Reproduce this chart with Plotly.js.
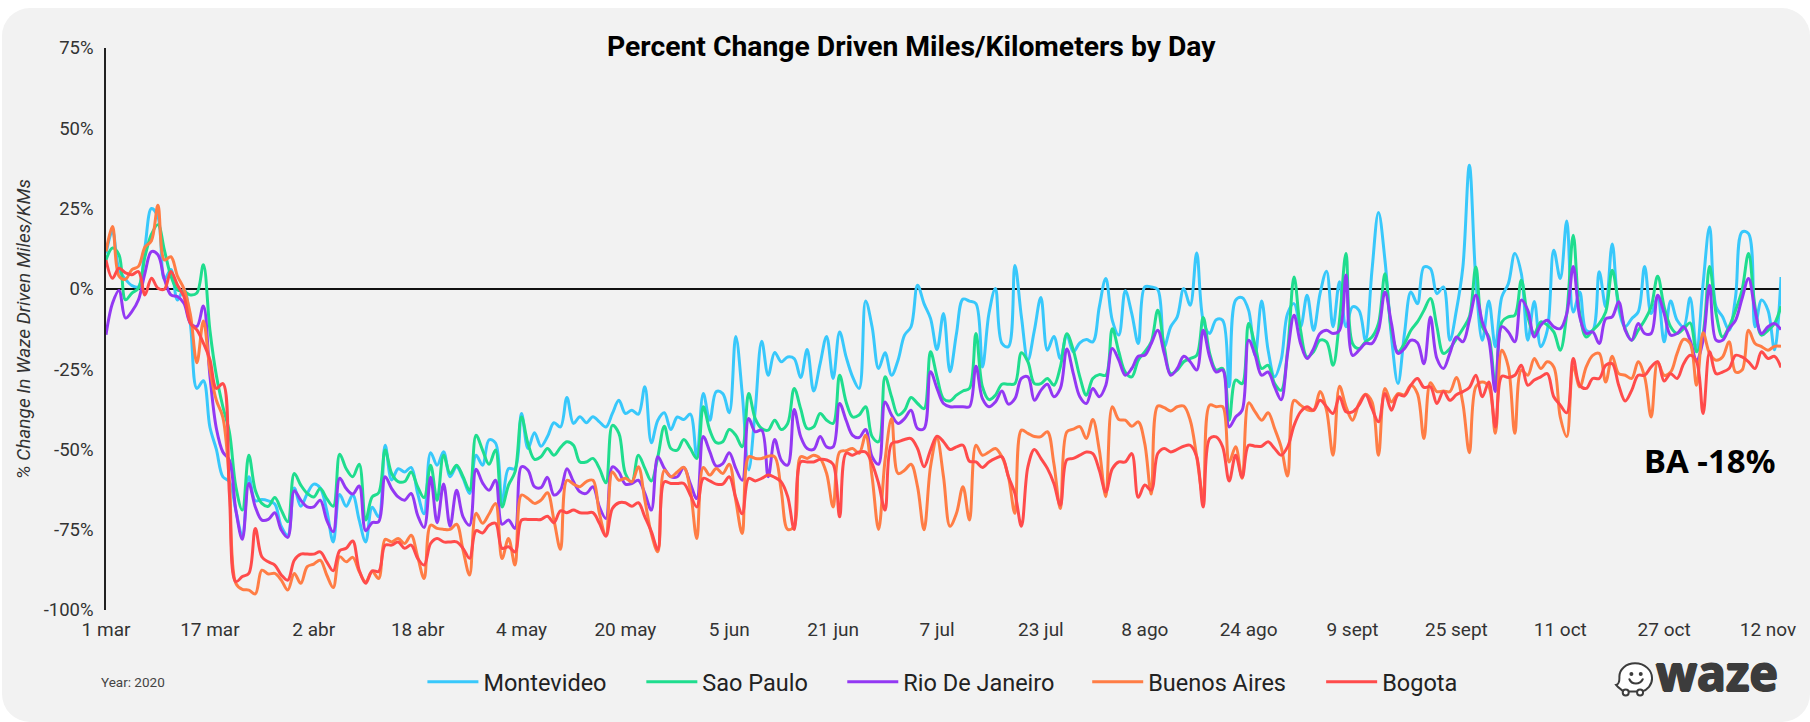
<!DOCTYPE html>
<html><head><meta charset="utf-8">
<script src="https://cdn.plot.ly/plotly-3.0.1.min.js"></script>
<style>
html,body{margin:0;padding:0;background:#fff;width:1810px;height:722px;overflow:hidden}
#panel{position:absolute;left:2px;top:8px;width:1808px;height:714px;background:#f2f2f2;border-radius:28px}
#chart{position:absolute;left:0;top:0;width:1810px;height:722px}
</style></head><body>
<div id="panel"></div><div id="chart"></div>
<script>
const startDate = '2020-03-01';
const tickDates = ['2020-03-01','2020-03-17','2020-04-02','2020-04-18','2020-05-04','2020-05-20','2020-06-05','2020-06-21','2020-07-07','2020-07-23','2020-08-08','2020-08-24','2020-09-09','2020-09-25','2020-10-11','2020-10-27','2020-11-12'];
const tickLabels = ['1 mar','17 mar','2 abr','18 abr','4 may','20 may','5 jun','21 jun','7 jul','23 jul','8 ago','24 ago','9 sept','25 sept','11 oct','27 oct','12 nov'];
const yTickValues = [-100,-75,-50,-25,0,25,50,75];
const yTickLabels = ['-100%','-75%','-50%','-25%','0%','25%','50%','75%'];
const montevideo = [11,18,6,3,1,0.7,13,25,22.5,3,
6,-3.5,0,-11,-31,-28.6,-43,-50,-58.5,-60,
-69,-77,-58.5,-66,-65.6,-66,-67,-74,-76.7,-62,
-67.7,-63.7,-60.8,-62,-69,-78.8,-64,-67.7,-64.2,-72,
-78.8,-68,-71,-48.7,-59.5,-56,-57,-55.6,-63.7,-70,
-51,-54.9,-50.7,-58.5,-55.4,-59,-63.7,-51.8,-54.9,-47,
-48,-66.8,-56,-56,-38.8,-49.7,-44.8,-49,-46,-41.7,
-43,-33.8,-41.9,-39.8,-41.7,-39.8,-41.4,-43,-38.8,-34.7,
-38.8,-37.8,-39,-30.5,-47.9,-40.9,-38.6,-43.8,-39.9,-40.7,
-39,-52.3,-32.6,-40.9,-32,-32.6,-38.6,-14.8,-32.6,-56.4,
-37.8,-16.3,-26.9,-19.8,-22.7,-21.2,-21.7,-27.6,-18.9,-31.8,
-23.3,-14.8,-27.9,-13.4,-21.2,-27.4,-31,-3.8,-11.8,-24.8,
-19.9,-26.9,-22.2,-14.4,-11.8,1.1,-4.6,-9.2,-18.9,-7.7,
-25.8,-13.9,-3.2,-3.8,-4.6,-24.3,-7.7,0.1,-17,-18,
7.3,-8.7,-22.2,-12.9,-2.7,-19.1,-14.8,-21.7,-14.4,-19.6,
-16.8,-15.8,-16.5,-5.6,3.2,-9.8,-14.4,-0.6,-7.7,-17,
0.6,0.6,-0.2,-18,-11.8,-8.7,0.1,-5.1,11.2,-9.8,
-13.9,-9.6,-9.8,-30.5,-3.5,-2.7,-6.7,-20.7,-3.8,-19.1,
-27.4,-22.2,-7.7,-4.6,-11.8,-2,-12.9,-1.5,5.5,-11.8,
2.2,-11.8,-5.6,-6.7,-16,5.8,23.8,8.9,-15,-29.5,
-14,-1,-4.6,6.8,6.3,-1.5,0.6,-16,-6.7,6.8,
38.5,2.7,-16,-3.8,-18,-2.5,1.6,11,4.8,-16,
-3.9,-18,-12.9,12,3.2,21.1,-7.2,-1,-12.9,-12.9,
5.3,-5.6,14,-6,-11.8,-9.3,-7.2,7,-7.7,-2.5,
-16.5,-3.8,-9.8,-11.8,-2.8,-19,1.6,19.3,-5.6,-8.7,
-12.9,-2.5,17.7,17.2,-11.8,-3.5,-6.7,-19,3.7];
const saoPaulo = [9,12.7,10.6,-3.4,-1.3,0.2,10,17,20,12,
4,-0.3,-0.8,-1.9,-1.3,7.5,-12.8,-27,-36.7,-44.5,
-61.6,-68.9,-51.8,-62.7,-66.8,-67.7,-65,-68.9,-72.5,-57.5,
-61.1,-63.7,-64.8,-62.2,-65.3,-67.7,-51.5,-56,-58.5,-54.6,
-72,-64.8,-63.5,-50.2,-57.5,-60,-60,-57,-61.6,-65,
-54.9,-65.8,-51.8,-57.5,-54.9,-58.5,-62.7,-45.6,-50.2,-54.6,
-50.2,-67.9,-61.1,-57,-39.9,-48.2,-53.1,-52.3,-49.7,-51.8,
-49.4,-47.6,-48.7,-53.9,-53.9,-52.8,-55.9,-60.4,-42.5,-45,
-57.5,-60.1,-51.8,-55.9,-59.8,-52.3,-42.8,-49.7,-50.2,-46.9,
-49.7,-52.8,-36.7,-44,-47.9,-47.6,-43.8,-45.6,-49.2,-32.6,
-40.4,-43.5,-44,-40.9,-43.8,-41.9,-31,-37.3,-43.5,-43,
-38.8,-40.9,-41.9,-26.9,-35.2,-39.9,-39.3,-36.7,-46,-47.6,
-27.4,-33.6,-39.3,-37.8,-33.8,-35.7,-37.3,-19.6,-27.4,-34.2,
-34.9,-33.1,-31.8,-31,-13.9,-30.5,-34.5,-33.1,-29.7,-29.7,
-29.5,-19.9,-22.7,-29.5,-29.5,-27.9,-30,-24.3,-14,-19.1,
-27.4,-33.1,-27.9,-26.7,-26.9,-12.4,-19.6,-25.9,-27.4,-22.2,
-19.6,-16.5,-6.7,-18,-26.4,-25.3,-22.7,-21.7,-20.7,-8.9,
-20.1,-25.3,-24.8,-40.9,-28.4,-29.5,-10.8,-17.6,-24.8,-23.8,
-29.5,-31.6,-19.1,3.7,-12.9,-21.2,-19.6,-16,-16.5,-23.8,
-9.8,11,-17,-18.6,-16.5,-15,-10.8,4.7,-12.9,-19.6,
-17,-12.9,-10.3,-6.7,-3,-11.8,-20.1,-18.6,-15.5,-12.4,
-8.7,6.8,-11.8,-15,-30.5,-10.3,-8.7,-8.2,2.7,-8.7,
-13.9,-10.3,-11.3,-13.4,-19.1,-7.7,16.7,-7.7,-15,-12.9,
-10.8,-7.2,5.8,-4.6,-12.4,-16,-12.9,-9.8,-5.6,3.9,
-5.6,-11.8,-13.9,-12.4,-10.6,-19.6,-13.9,7,-7.7,-15,
-11.8,-6.7,-0.4,11,-5.6,-14.4,-12.9,-10.8,-5.4];
const rioDeJaneiro = [-14.3,-4.5,-0.5,-9.1,-7,-3.4,4.9,11.6,10.6,3,
-1.9,-2.4,-4.5,-10.7,-11.7,-5.3,-27,-43.5,-50.8,-53.3,
-68.9,-78,-60.6,-67.9,-72,-71.8,-69.7,-75.1,-77.4,-62.9,
-65.8,-67.9,-67.9,-65.8,-72,-75.6,-59,-62.2,-63.9,-61.4,
-75.3,-72.8,-72.5,-58.5,-62.2,-64.8,-65.8,-63.7,-70.5,-74.3,
-58.7,-72.8,-60.8,-73.9,-62.7,-71,-73.6,-56.2,-60.4,-62.7,
-59.6,-73.3,-72,-74.6,-55.4,-56.5,-61.6,-61.9,-58.7,-64.2,
-62.7,-56,-60,-63.2,-63.7,-61.6,-67.9,-71.5,-55.4,-57,
-60.8,-60.6,-59.6,-63.7,-68.9,-52.3,-55.9,-58.5,-58.5,-55.6,
-60.6,-65.3,-46,-50.7,-55.2,-54.4,-51,-55.9,-59.6,-40.4,
-44.5,-44,-58.5,-46.9,-53.3,-54.9,-37.6,-46,-49.7,-50,
-46,-49.2,-49.2,-35.7,-40.9,-45.6,-46.3,-43.8,-52.3,-54.6,
-35.2,-39.3,-41.9,-40.4,-37.8,-43.5,-43.5,-25.8,-31,-35.7,
-36.7,-36.7,-36.7,-36.7,-24.1,-34.2,-36.7,-35.2,-31.8,-35.9,
-34.2,-27.9,-27.4,-34.7,-31.6,-29.7,-33.6,-31,-18.7,-26.4,
-33.6,-35.7,-31,-33.6,-30,-18.6,-22.2,-26.9,-24.8,-21,
-20.7,-17,-12.9,-20.1,-26.9,-24.8,-21,-22.7,-25.3,-12.9,
-21.2,-25.9,-25.3,-43,-39.9,-37.8,-16,-20.7,-26.9,-25.9,
-30.5,-34.5,-20.1,-8.2,-17,-21.7,-18.6,-13.9,-12.9,-13.9,
-12.9,4.3,-20.7,-19.1,-17,-17,-12.9,-1,-10.8,-20.1,
-18.6,-16,-16.8,-23.3,-8.8,-21.7,-24.8,-20,-15,-16.5,
-9.8,-2,-10.3,-16,-32,-11.8,-13.4,-16.5,-3.5,-6.7,
-15,-11.3,-9.8,-11.8,-12.4,-7.7,7,-8.7,-13.9,-13.4,
-17,-9.3,-8.7,-4,-12.9,-16,-10.8,-13.9,-13.9,-2,
-7.7,-14.4,-13.9,-11.8,-16,-22.2,-16,1.1,-16,-16,
-12.4,-9.8,-3,3.2,-6.7,-13.9,-11.8,-10.8,-12.7];
const buenosAires = [11.6,19.4,4,3,6,7,13,15,26,9,
10,4,0,-8,-23,-10,-25,-34.7,-40,-60,
-91.7,-93.6,-93.8,-95,-87.6,-88.8,-88.6,-90.7,-93.8,-88.6,
-91.7,-86.5,-85.7,-84.5,-89.1,-93,-83.4,-85,-83.6,-88,
-91.2,-88,-90.2,-78,-78.8,-77.7,-79.3,-76.7,-83.4,-90.2,
-73.6,-74.6,-74.9,-74.9,-73.3,-81.4,-89.1,-69.9,-73,-70.1,
-66.8,-84,-77.7,-86,-64.2,-65.3,-66.8,-65.8,-63.5,-72,
-81.1,-59.6,-60.8,-61.6,-60,-59.6,-69.9,-76.7,-57,-59.6,
-59,-60.1,-55.4,-65.8,-76.2,-81.9,-56.5,-58.5,-57,-55.6,
-62.7,-77.7,-55.6,-58,-55.9,-57.5,-54.6,-65.8,-76.2,-52.3,
-52.8,-52.8,-52.1,-52.3,-62.7,-74.9,-74,-52.3,-52.8,-51.8,
-52.8,-57.5,-67.9,-50.8,-50.4,-49.7,-51.2,-45.6,-58.5,-74.9,
-53.3,-40.4,-57.5,-56.5,-54.6,-61.6,-75,-55.4,-46.6,-58.5,
-73.9,-69.9,-61.6,-72,-48.7,-51.8,-50.8,-49.7,-52.3,-58.5,
-69.9,-44,-45,-46,-46,-44.5,-54.4,-68.4,-44.5,-43.7,
-42.9,-46.6,-40.7,-50.2,-64.7,-36.7,-40.7,-40.9,-42.8,-41.4,
-48.2,-63.9,-36.5,-37,-38,-36.7,-36.5,-40.9,-52.3,-64.7,
-36.2,-36.7,-36.7,-53.9,-49.2,-59,-35.5,-38.3,-40.9,-38.6,
-43.5,-49.2,-58.3,-34.7,-36.2,-37.6,-37.8,-32,-37.8,-51.8,
-30.3,-36.7,-40.9,-35.7,-32.8,-35.2,-51.8,-31,-35.2,-32.6,
-33,-30,-32.6,-46.6,-29.2,-32,-31.8,-32,-27.6,-35.7,
-51,-30.5,-29,-30.5,-45,-19.1,-24.3,-45,-25.3,-26.9,
-21.7,-24.8,-22.7,-24.3,-39.9,-46,-24.3,-30.5,-24.3,-20.7,
-20.1,-29,-21,-26.4,-26.9,-27.9,-22.7,-27.4,-39.9,-22.7,
-26.9,-25.9,-20.1,-15.7,-17,-30,-13.7,-20.1,-22.2,-21.2,
-16.5,-25.9,-25.3,-12.9,-17,-18,-19.1,-17.9,-17.9];
const bogota = [9,3.3,6.4,5,4.4,5.4,-1.9,3.3,0.2,-0.1,
5.4,1.2,-2.4,-10.7,-12.8,-16.9,-22,-31,-29.5,-63.7,
-91.2,-89.6,-88.6,-74.6,-83.4,-85,-86,-89.1,-90.7,-84.5,
-82.6,-82.6,-82.6,-81.9,-85,-87.8,-81.5,-80.8,-78.5,-87.6,
-91.7,-87.8,-88,-79.8,-79.8,-78.8,-80.8,-79.8,-83.9,-86,
-79.3,-77.7,-78.8,-78.8,-78.8,-80.8,-83.9,-75.3,-76,-73.6,
-73,-80.8,-80.3,-81.9,-72,-71.8,-71.8,-71.8,-70.8,-72.8,
-69.1,-69.7,-68.9,-69.7,-69.8,-69.7,-73,-77,-68.4,-66.6,
-66.6,-67.7,-66.6,-71,-75.6,-81.1,-60.1,-60.6,-60.6,-60.6,
-64.2,-67.9,-59,-59.8,-60.8,-60.8,-58.5,-65,-70,-59,
-59.8,-59,-58,-58.7,-60.1,-64.7,-74.9,-53.9,-53.9,-53.9,
-53.1,-53.3,-54.6,-71,-51.2,-51.8,-50.8,-50.8,-54.4,-60.6,
-68.9,-48.2,-47.6,-46.9,-46.6,-49.7,-55.4,-50.2,-45.9,-47.6,
-50,-49.2,-48.7,-53.7,-53.9,-55.6,-53.9,-52.8,-52.3,-58.5,
-63.7,-73.9,-55.4,-50,-52.8,-55.9,-60.6,-67.4,-53.2,-52.8,
-51.8,-50.8,-51.3,-56.5,-63.2,-56,-53.9,-53.9,-51.3,-64.9,
-61.1,-62.7,-51.3,-49.7,-50.8,-50,-49,-48.7,-52.3,-67.9,
-46.6,-46.1,-49.2,-59.8,-51.8,-58.7,-48.7,-49,-49,-47.6,
-49.7,-51.8,-49.2,-42.5,-38.3,-36.7,-37.8,-34.7,-36.7,-38.8,
-33.6,-38.3,-38.3,-36.2,-33,-37.3,-41.4,-32.6,-37.8,-33,
-33.3,-30,-27.9,-30.7,-30.5,-35.7,-32,-34.7,-33,-32,
-30.7,-26.9,-33.6,-29,-43,-27.2,-27.6,-26.9,-23.8,-30,
-28.4,-27.4,-26.4,-33.6,-36.2,-38.6,-21.7,-30,-31,-27.9,
-27.9,-23.8,-23.3,-30,-34.9,-31.6,-26.9,-26.9,-24.3,-22.7,
-28.7,-26.4,-27.9,-23.3,-20.7,-22.7,-38.8,-19.6,-26.4,-25.9,
-24.8,-20.7,-21.2,-22.7,-24.8,-19.6,-21.7,-21,-24.5];
const seriesNames = ['Montevideo','Sao Paulo','Rio De Janeiro','Buenos Aires','Bogota'];
const seriesValues = [montevideo, saoPaulo, rioDeJaneiro, buenosAires, bogota];
const seriesColors = ['#38c8fb','#1fdd8e','#9338f3','#ff7d45','#ff4b4b'];
const legendLeft = [427, 646, 847, 1092, 1326];

const MS = 86400000, t0 = Date.parse(startDate + 'T00:00:00Z');
const dayOf = i => new Date(t0 + i * MS).toISOString().slice(0, 10);
const L = 105.5, T = 47.5, R = 1781, B = 610;
const fx = p => (p - L) / (R - L), fy = p => 1 - (p - T) / (B - T);
const legendId = k => k === 0 ? 'legend' : 'legend' + (k + 1);

const traces = seriesValues.map((v, k) => ({
  type: 'scatter', mode: 'lines', name: seriesNames[k], legend: legendId(k), showlegend: true,
  x: v.map((_, i) => dayOf(i)), y: v,
  line: {color: seriesColors[k], width: 3, shape: 'spline', smoothing: 1},
  hoverinfo: 'x+y+name'
}));

const logoSvg = `<svg xmlns="http://www.w3.org/2000/svg" viewBox="60 55 140 125"><path d="M135 70C165 70 186 92 186 115C186 135 172 150 155 155L100 155C95 147 88 148 78 135C90 132 88 120 88 110C88 88 108 70 135 70Z" fill="#fff" stroke="#3c3c3c" stroke-width="6"/><circle cx="107" cy="158" r="9" fill="#fff" stroke="#3c3c3c" stroke-width="6"/><circle cx="150" cy="158" r="9" fill="#fff" stroke="#3c3c3c" stroke-width="6"/><circle cx="124" cy="102" r="6" fill="#3c3c3c"/><circle cx="152" cy="102" r="6" fill="#3c3c3c"/><path d="M118 118C125 135 150 135 158 118" fill="none" stroke="#3c3c3c" stroke-width="6" stroke-linecap="round"/></svg>`;

const note = (xp, yp, text, font, xanchor) => ({xref: 'paper', yref: 'paper', x: fx(xp), y: fy(yp), text,
  xanchor: xanchor || 'center', yanchor: 'middle', showarrow: false, font});

const layout = {
  width: 1810, height: 722,
  paper_bgcolor: 'rgba(0,0,0,0)', plot_bgcolor: 'rgba(0,0,0,0)',
  margin: {l: L, r: 1810 - R, t: T, b: 722 - B, pad: 0},
  font: {family: 'Roboto, sans-serif', color: '#333'},
  showlegend: true,
  xaxis: {type: 'date', range: [dayOf(0), dayOf(258)], tickmode: 'array', tickvals: tickDates, ticktext: tickLabels,
    showgrid: false, zeroline: false, showline: false, ticks: '', tickangle: 0, ticklabelstandoff: 6,
    tickfont: {family: 'Roboto', size: 19, color: '#333'}},
  yaxis: {range: [-100, 75], tickmode: 'array', tickvals: yTickValues, ticktext: yTickLabels,
    showgrid: false, showline: true, linecolor: '#222', linewidth: 1.5, ticks: '', ticklabelstandoff: 7,
    zeroline: true, zerolinecolor: '#111', zerolinewidth: 2,
    tickfont: {family: 'Roboto', size: 18.5, color: '#333'},
    title: {text: '% Change In Waze Driven Miles/KMs', standoff: 8,
      font: {family: 'Roboto', size: 19, color: '#333', style: 'italic'}}},
  annotations: [
    note(911, 46, '<b>Percent Change Driven Miles/Kilometers by Day</b>', {family: 'Roboto', size: 28.3, color: '#000'}),
    note(1709, 460, '<b>BA -18%</b>', {family: 'Noto Sans', size: 33, color: '#000'}),
    note(98, 682, 'Year: 2020', {family: 'Roboto', size: 13.5, color: '#444'}, 'left'),
    note(1717, 673, '<b>waze</b>', {family: 'Open Sans', size: 48, color: '#3c3c3c',
      shadow: '1px 0 0 #3c3c3c, -1px 0 0 #3c3c3c, 0 1px 0 #3c3c3c, 0 -1px 0 #3c3c3c'})
  ],
  images: [{source: 'data:image/svg+xml;base64,' + btoa(logoSvg), xref: 'paper', yref: 'paper',
    x: fx(1610), y: fy(658.3), sizex: 46.7 / (R - L), sizey: 41.7 / (B - T),
    xanchor: 'left', yanchor: 'top', sizing: 'stretch', layer: 'above'}]
};
seriesNames.forEach((n, k) => {
  layout[legendId(k)] = {orientation: 'h', x: fx(legendLeft[k] - 5), y: fy(682), xanchor: 'left', yanchor: 'middle',
    itemwidth: 51, font: {family: 'Roboto', size: 23.5, color: '#222'}, bgcolor: 'rgba(0,0,0,0)'};
});
Plotly.newPlot('chart', traces, layout, {displayModeBar: false, responsive: false});
</script></body></html>
